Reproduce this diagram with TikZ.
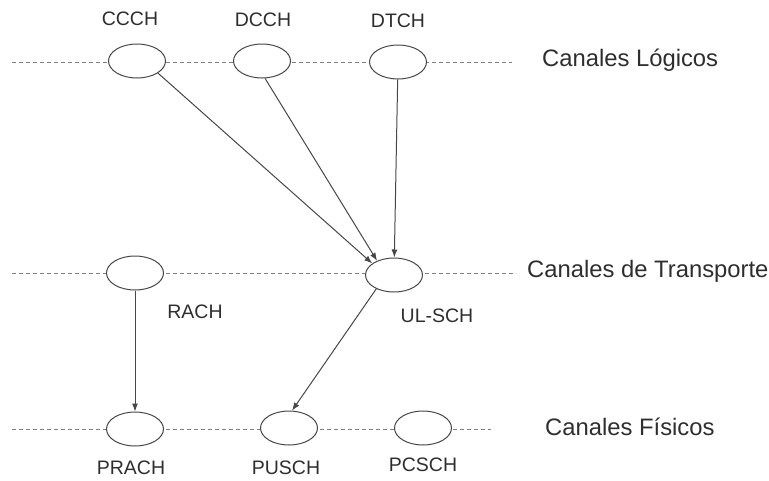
\documentclass[tikz,border=0pt]{standalone}
\usepackage{fontspec}
\setmainfont{Liberation Sans}
\usetikzlibrary{arrows.meta,shapes.geometric}

\definecolor{inkline}{HTML}{474747}
\definecolor{dashgray}{HTML}{808080}
\definecolor{inktext}{HTML}{2E2E2E}

\tikzset{
  chan/.style={ellipse, draw=inkline, fill=white, line width=1pt,
    minimum width=57pt, minimum height=34pt, inner sep=0pt},
  chanlabel/.style={text=inktext, inner sep=0pt,
    font=\fontsize{19.5}{23}\selectfont},
  layerlabel/.style={text=inktext, inner sep=0pt, anchor=base west,
    font=\fontsize{23.8}{28}\selectfont},
  layerline/.style={draw=dashgray, line width=1pt, dash pattern=on 4pt off 3pt},
  maparrow/.style={draw=inkline, line width=1pt,
    -{Latex[length=8pt,width=6pt]}}
}

\begin{document}
\begin{tikzpicture}[x=1pt,y=-1pt]
  \useasboundingbox (0,0) rectangle (769,480);

  % layer boundaries (dashed guide lines)
  \coordinate (logA) at (12,62);   \coordinate (logB) at (512,62);
  \coordinate (traA) at (12,273);  \coordinate (traB) at (516,273);
  \coordinate (fisA) at (12,429);  \coordinate (fisB) at (491,429);
  \draw[layerline] (logA) -- (logB);
  \draw[layerline] (traA) -- (traB);
  \draw[layerline] (fisA) -- (fisB);

  % logical channels
  \node[chan] (ccch) at (137,61) {};
  \node[chan] (dcch) at (262,61) {};
  \node[chan] (dtch) at (398,62) {};
  \node[chanlabel] (lccch) at (130,19) {CCCH};
  \node[chanlabel] (ldcch) at (263,20) {DCCH};
  \node[chanlabel] (ldtch) at (398,21) {DTCH};

  % transport channels
  \node[chan] (rach)  at (135,273) {};
  \node[chan] (ulsch) at (394,275) {};
  \node[chanlabel] (lrach)  at (195,312) {RACH};
  \node[chanlabel] (lulsch) at (437,316) {UL-SCH};

  % physical channels
  \node[chan] (prach) at (135,429) {};
  \node[chan] (pusch) at (289,428) {};
  \node[chan] (pcsch) at (423,428) {};
  \node[chanlabel] (lprach) at (131,468) {PRACH};
  \node[chanlabel] (lpusch) at (286,468) {PUSCH};
  \node[chanlabel] (lpcsch) at (423,465) {PCSCH};

  % layer names
  \node[layerlabel] (nlog) at (542,66)  {Canales Lógicos};
  \node[layerlabel] (ntra) at (527,277) {Canales de Transporte};
  \node[layerlabel] (nfis) at (545,435) {Canales Físicos};

  % channel mappings
  \draw[maparrow] (ccch.-30) -- (ulsch.152);
  \draw[maparrow] (dcch.-80) -- (ulsch.140);
  \draw[maparrow] (dtch) -- (ulsch);
  \draw[maparrow] (rach) -- (prach);
  \draw[maparrow] (ulsch.218) -- (pusch.80);
\end{tikzpicture}
\end{document}
